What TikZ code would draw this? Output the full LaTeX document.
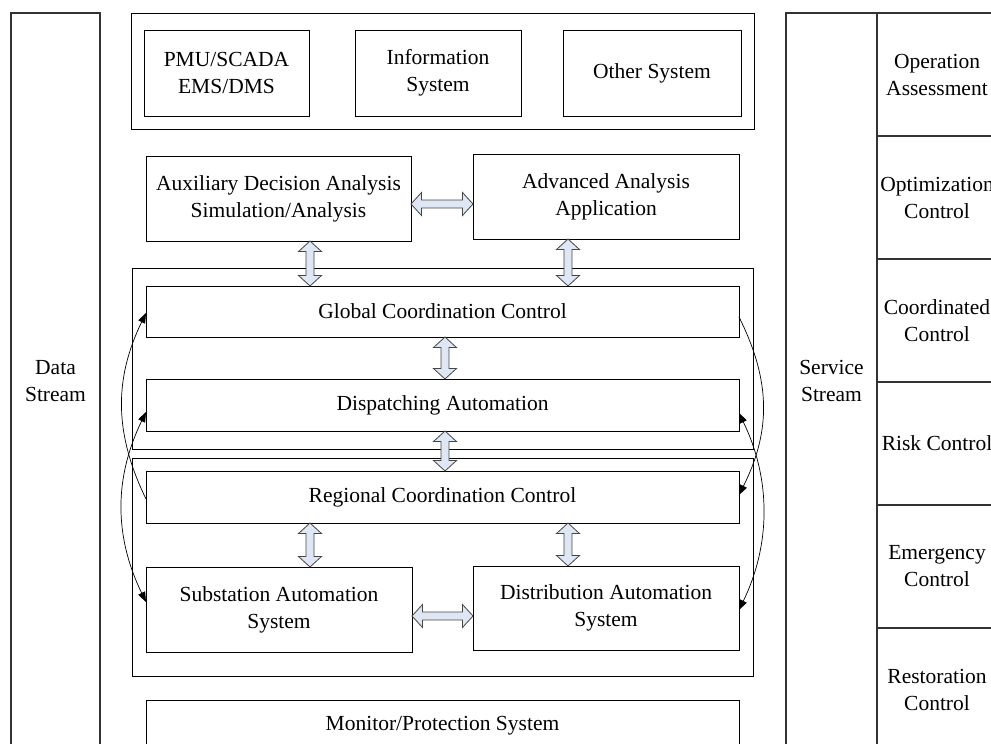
\documentclass[tikz,border=0pt]{standalone}
\usepackage{fontspec}
\setmainfont{Liberation Serif}
\usetikzlibrary{calc,arrows.meta}

% vertical double block arrow at x (px) between a lower anchor of the upper node and an upper anchor of the lower node
\newcommand{\vblock}[3]{%
  \draw[blockarrow] let \p1=(#2), \p2=(#3) in
    ({#1pt},\y1) -- ++(11.5pt,-10.5pt) -- ++(-7.5pt,0pt) -- ({#1pt+4pt},{\y2+10.5pt})
    -- ++(7.5pt,0pt) -- ({#1pt},\y2) -- ++(-11.5pt,10.5pt) -- ++(7.5pt,0pt)
    -- ({#1pt-4pt},{\y1-10.5pt}) -- ++(-7.5pt,0pt) -- cycle;}
% horizontal double block arrow at y (px) between two nodes side by side
\newcommand{\hblock}[3]{%
  \draw[blockarrow] let \p1=(#2), \p2=(#3) in
    (\x1,{-#1pt}) -- ++(10.5pt,11.5pt) -- ++(0pt,-7.5pt) -- ({\x2-10.5pt},{-#1pt+4pt})
    -- ++(0pt,7.5pt) -- (\x2,{-#1pt}) -- ++(-10.5pt,-11.5pt) -- ++(0pt,7.5pt)
    -- ({\x1+10.5pt},{-#1pt-4pt}) -- ++(0pt,-7.5pt) -- cycle;}

\definecolor{arrowfill}{RGB}{222,231,243}
\definecolor{arrowline}{RGB}{70,70,70}

\tikzset{
  box/.style={draw=black, line width=0.9pt, rectangle, inner sep=0pt, outer sep=0pt,
    align=center, font=\fontsize{21.5}{27}\selectfont},
  column/.style={box, draw=black!80, line width=1.1pt},
  blockarrow/.style={draw=arrowline, fill=arrowfill, line width=0.8pt, line join=miter},
  link/.style={draw=black, line width=0.7pt, -{Triangle[length=10pt,width=7.5pt]}},
  link2/.style={draw=black, line width=0.7pt, {Triangle[length=10pt,width=7.5pt]}-{Triangle[length=10pt,width=7.5pt]}}
}

\begin{document}
\begin{tikzpicture}[x=1pt,y=-1pt]
\useasboundingbox (0,0) rectangle (991,744);

% side columns
\node[column, minimum width=89, minimum height=736] (datacol) at (55.5,381) {Data\\Stream};
\node[column, minimum width=91, minimum height=736] (servcol) at (831.5,381) {Service\\Stream};

% service cells
\node[column, minimum width=120, minimum height=123] (c1) at (937,74.5) {Operation\\Assessment};
\node[column, minimum width=120, minimum height=123] (c2) at (937,197.5) {Optimization\\Control};
\node[column, minimum width=120, minimum height=123] (c3) at (937,320.5) {Coordinated\\Control};
\node[column, minimum width=120, minimum height=123] (c4) at (937,443.5) {Risk Control};
\node[column, minimum width=120, minimum height=123] (c5) at (937,566.5) {Emergency\\Control};
\node[column, minimum width=120, minimum height=123] (c6) at (937,689.5) {Restoration\\Control};

% external systems
\node[box, minimum width=623, minimum height=116] (top) at (442.5,71) {};
\node[box, minimum width=165, minimum height=86] (pmu) at (226.5,73) {PMU/SCADA\\EMS/DMS};
\node[box, minimum width=166, minimum height=86] (info) at (438,73) {Information\\System};
\node[box, minimum width=178, minimum height=86] (other) at (652,73) {Other System};

% analysis layer
\node[box, minimum width=265, minimum height=85] (aux) at (278.5,198.5) {Auxiliary Decision Analysis\\Simulation/Analysis};
\node[box, minimum width=266, minimum height=85] (adv) at (606,196.5) {Advanced Analysis\\Application};

% control groups
\node[box, minimum width=621, minimum height=181] (grp1) at (442.5,358.5) {};
\node[box, minimum width=621, minimum height=218] (grp2) at (442.5,567) {};

\node[box, minimum width=593, minimum height=51] (glob) at (442.5,311.5) {Global Coordination Control};
\node[box, minimum width=593, minimum height=52] (disp) at (442.5,405) {Dispatching Automation};
\node[box, minimum width=593, minimum height=52] (reg) at (442.5,497) {Regional Coordination Control};
\node[box, minimum width=266, minimum height=85] (sub) at (279,609.5) {Substation Automation\\System};
\node[box, minimum width=266, minimum height=84] (dist) at (606,608) {Distribution Automation\\System};

\node[box, minimum width=593, minimum height=52] (mon) at (442.5,726) {Monitor/Protection System};

% block arrows
\hblock{204}{aux.east}{adv.west}
\vblock{310}{aux.south}{glob.north}
\vblock{568}{adv.south}{glob.north}
\vblock{445}{glob.south}{disp.north}
\vblock{445}{disp.south}{reg.north}
\vblock{310}{reg.south}{sub.north}
\vblock{568}{reg.south}{dist.north}
\hblock{616}{sub.east}{dist.west}

% feedback links, left side
\draw[link] ([yshift=-2pt]reg.west) .. controls +(-32,-66) and +(-32,66) .. ([yshift=-1.5pt]glob.west);
\draw[link2] ([yshift=-7pt]disp.west) .. controls +(-32,66) and +(-32,-66) .. ([yshift=7.5pt]sub.west);
% feedback links, right side
\draw[link] ([yshift=-5.5pt]glob.east) .. controls +(32,64) and +(32,-64) .. ([yshift=2pt]reg.east);
\draw[link2] ([yshift=-8pt]disp.east) .. controls +(32,66) and +(32,-66) .. ([yshift=-2pt]dist.east);
\end{tikzpicture}
\end{document}
